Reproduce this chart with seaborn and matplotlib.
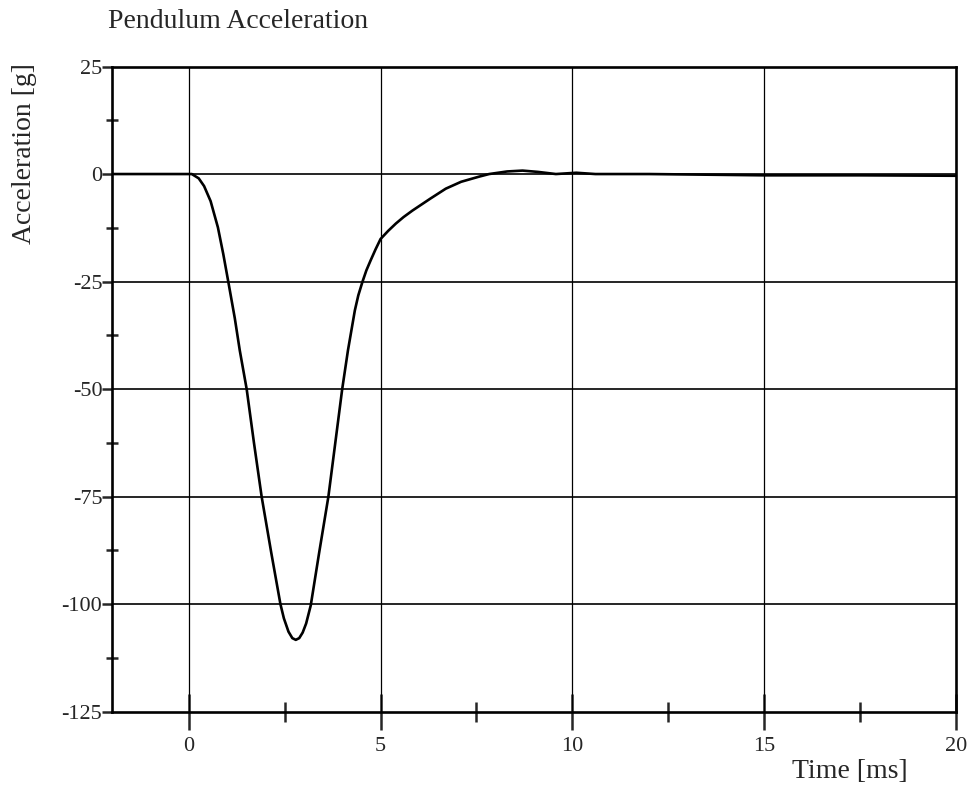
import matplotlib
matplotlib.use("Agg")
import matplotlib.pyplot as plt
import seaborn as sns
import pandas as pd
from matplotlib.ticker import MultipleLocator

# values
time_ms = [-2.0, 0.0, 0.08, 0.26, 0.4, 0.57, 0.76, 0.9, 1.03, 1.2, 1.33, 1.51,
           1.7, 1.90, 2.15, 2.39, 2.48, 2.6, 2.7, 2.79, 2.88, 2.97, 3.06, 3.18,
           3.4, 3.64, 3.82, 4.00, 4.15, 4.33, 4.42, 4.53, 4.63, 4.74, 4.87, 5.0,
           5.2, 5.4, 5.6, 5.83, 6.3, 6.70, 7.1, 7.57, 7.83, 8.3, 8.70, 9.1, 9.57,
           10.1, 10.6, 12.0, 15.0, 17.5, 20.0]
accel_g = [0.0, 0.0, 0.0, -1.0, -2.8, -6.3, -12.4, -18.6, -25.0, -33.5, -41.0, -50.0,
           -62.5, -75.0, -88.0, -100.0, -103.3, -106.4, -107.9, -108.3, -107.9, -106.6, -104.5, -100.3,
           -88.0, -75.0, -62.5, -50.0, -41.0, -31.7, -28.2, -25.0, -22.4, -20.1, -17.5, -15.1,
           -13.2, -11.5, -10.0, -8.5, -5.7, -3.4, -1.8, -0.6, 0.0, 0.6, 0.8, 0.5, 0.0,
           0.3, 0.0, 0.0, -0.3, -0.3, -0.4]

x_ticks = [0, 5, 10, 15, 20]
y_ticks = [25, 0, -25, -50, -75, -100, -125]

df = pd.DataFrame({"Time": time_ms, "Accel": accel_g})

sns.set_style("white")
plt.rcParams["font.family"] = ["Liberation Serif", "DejaVu Serif"]
plt.rcParams["axes.unicode_minus"] = False

fig = plt.figure(figsize=(9.69, 7.89), dpi=100)
ax = fig.add_axes([0.1156, 0.098, 0.8710, 0.8177])

sns.lineplot(data=df, x="Time", y="Accel", ax=ax, color="black",
             linewidth=1.9, sort=False, estimator=None, zorder=3)

ax.set_xlim(-2, 20)
ax.set_ylim(-125, 25)

# grid lines (only at interior major positions)
for xv in [0, 5, 10, 15]:
    ax.axvline(xv, color="black", linewidth=0.9, zorder=1)
for yv in [0, -25, -50, -75, -100]:
    ax.axhline(yv, color="black", linewidth=1.2, zorder=1)

ax.set_xticks(x_ticks)
ax.set_xticklabels([str(v) for v in x_ticks])
ax.set_yticks(y_ticks)
ax.set_yticklabels([str(v) for v in y_ticks])
ax.xaxis.set_minor_locator(MultipleLocator(2.5))
ax.yaxis.set_minor_locator(MultipleLocator(12.5))

ax.tick_params(axis="x", which="major", direction="inout", length=26, width=1.8,
               labelsize=16, pad=5, bottom=True, top=False)
ax.tick_params(axis="x", which="minor", direction="inout", length=14, width=1.8,
               bottom=True, top=False)
ax.tick_params(axis="y", which="major", direction="out", length=7, width=1.8,
               labelsize=16, pad=0, left=True, right=False)
ax.tick_params(axis="y", which="minor", direction="inout", length=9, width=1.8,
               left=True, right=False)

for sp in ax.spines.values():
    sp.set_visible(True)
    sp.set_color("black")
    sp.set_linewidth(1.9)

ax.set_xlabel("")
ax.set_ylabel("")

fig.text(108 / 969, 1 - 22 / 789, "Pendulum Acceleration", fontsize=20,
         ha="left", va="center")
fig.text(25 / 969, 1 - 154 / 789, "Acceleration [g]", fontsize=20,
         rotation=90, ha="center", va="center")
fig.text(850 / 969, 1 - 771 / 789, "Time [ms]", fontsize=20,
         ha="center", va="center")

fig.savefig("out.png", dpi=100)
